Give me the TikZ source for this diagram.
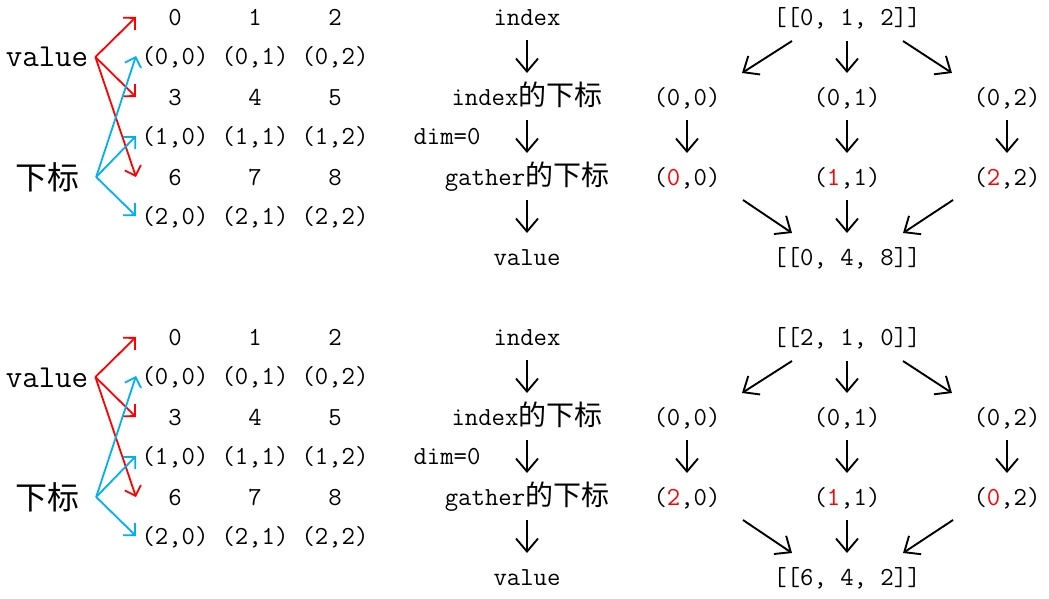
\documentclass[tikz,border=0pt]{standalone}
\usepackage{fontspec}
\newfontfamily\cjk{Noto Sans CJK SC}
\usetikzlibrary{arrows.meta,calc}
\definecolor{myred}{RGB}{255,0,0}
\definecolor{myblue}{RGB}{0,176,240}
\newcommand{\cjkmid}[1]{{\cjk\fontsize{28}{30}\selectfont #1}}
\begin{document}
\begin{tikzpicture}[x=1pt,y=-1pt,
  txt/.style={inner sep=0pt, font=\ttfamily\fontsize{26}{30}\selectfont, text height=17pt, text depth=0pt},
  big/.style={inner sep=0pt, font=\ttfamily\fontsize{32}{36}\selectfont, text height=20pt, text depth=0pt},
  bigcjk/.style={inner sep=0pt, font=\cjk\fontsize{32}{36}\selectfont, text height=24pt, text depth=0pt},
  glyph/.style={line width=1.9pt, -{Straight Barb[length=13pt,width=22pt]}},
  fan/.style={line width=1.8pt, -{Straight Barb[length=8.5pt,width=17pt]}},
]
\useasboundingbox (0,0) rectangle (1049,599);
\foreach \p/\yo/\topt/\ra/\rb/\rc/\res in {1/0/{[[0, 1, 2]]}/0/1/2/{[[0, 4, 8]]},2/320/{[[2, 1, 0]]}/2/1/0/{[[6, 4, 2]]}}{
  % left block
  \node[big] (val\p) at (47,57+\yo) {value};
  \node[bigcjk] (sub\p) at (48,177+\yo) {下标};
  \foreach \r in {0,1,2}{
    \foreach \c in {0,1,2}{
      \pgfmathtruncatemacro{\num}{3*\r+\c}
      \node[txt] (n\p-\r-\c) at (175+80*\c,17+80*\r+\yo) {\num};
      \node[txt] (i\p-\r-\c) at (175+80*\c,56+80*\r+\yo) {(\r,\c)};
    }
  }
  \coordinate (vo\p) at ($(val\p.east)+(7,0)$);
  \coordinate (so\p) at ($(sub\p.east)+(16,0)$);
  \foreach \r in {0,1,2}{
    \draw[fan,myred] (vo\p) -- ($(n\p-\r-0)+(-39,0)$);
  }
  \foreach \r in {0,1,2}{
    \draw[fan,myblue] (so\p) -- ($(i\p-\r-0)+(-39,0)$);
  }
  % middle column
  \node[txt] (m1\p) at (527,17+\yo) {index};
  \node[txt] (m2\p) at (527,97+\yo) {index\cjkmid{的下标}};
  \node[txt] (dim\p) at (447,136+\yo) {dim=0};
  \node[txt] (m3\p) at (527,177+\yo) {gather\cjkmid{的下标}};
  \node[txt] (m4\p) at (527,257+\yo) {value};
  \draw[glyph] ($(m1\p)+(0,23)$) -- ($(m2\p)+(0,-24)$);
  \draw[glyph] ($(m2\p)+(0,23)$) -- ($(m3\p)+(0,-24)$);
  \draw[glyph] ($(m3\p)+(0,23)$) -- ($(m4\p)+(0,-24)$);
  % right column
  \node[txt] (t\p) at (847,17+\yo) {\topt};
  \node[txt] (a\p-0) at (687,97+\yo) {(0,0)};
  \node[txt] (a\p-1) at (847,97+\yo) {(0,1)};
  \node[txt] (a\p-2) at (1007,97+\yo) {(0,2)};
  \node[txt] (b\p-0) at (687,177+\yo) {(\textcolor{myred}{\ra},0)};
  \node[txt] (b\p-1) at (847,177+\yo) {(\textcolor{myred}{\rb},1)};
  \node[txt] (b\p-2) at (1007,177+\yo) {(\textcolor{myred}{\rc},2)};
  \node[txt] (r\p) at (847,257+\yo) {\res};
  \draw[glyph] ($(t\p)+(-55,24)$) -- ($(a\p-0)+(55,-24)$);
  \draw[glyph] ($(t\p)+(0,24)$) -- ($(a\p-1)+(0,-24)$);
  \draw[glyph] ($(t\p)+(56,24)$) -- ($(a\p-2)+(-55,-24)$);
  \foreach \c in {0,1,2}{
    \draw[glyph] ($(a\p-\c)+(0,23)$) -- ($(b\p-\c)+(0,-24)$);
  }
  \draw[glyph] ($(b\p-0)+(56,23)$) -- ($(r\p)+(-55,-24)$);
  \draw[glyph] ($(b\p-1)+(0,23)$) -- ($(r\p)+(0,-24)$);
  \draw[glyph] ($(b\p-2)+(-54,23)$) -- ($(r\p)+(56,-24)$);
}
\end{tikzpicture}
\end{document}
